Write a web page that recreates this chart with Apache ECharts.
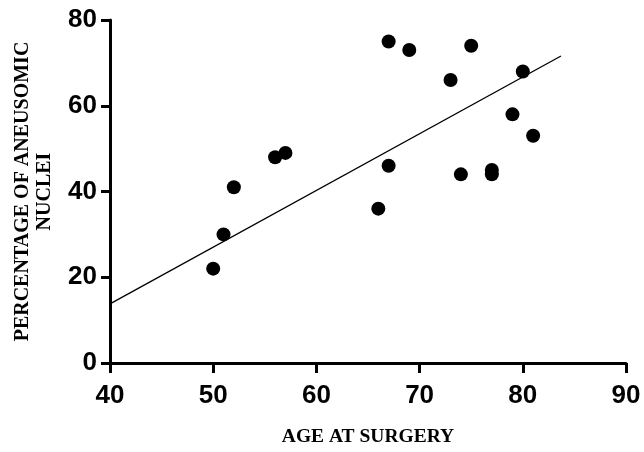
<!DOCTYPE html>
<html>
<head>
<meta charset="utf-8">
<script src="https://cdn.jsdelivr.net/npm/echarts@6/dist/echarts.min.js"></script>
<style>
html,body{margin:0;padding:0;background:#fff;}
#chart{width:644px;height:452px;}
</style>
</head>
<body>
<div id="chart"></div>
<script>
// Age at surgery (x) and percentage of aneusomic nuclei (y)
var ages = [50, 51, 52, 56, 57, 66, 67, 67, 69, 73, 74, 75, 77, 77, 79, 80, 81];
var aneusomic = [22, 30, 41, 48, 49, 36, 46, 75, 73, 66, 44, 74, 45, 44, 58, 68, 53];
// Regression line endpoints
var fitX = [40, 83.7];
var fitY = [13.8, 71.6];
var xTicks = [40, 50, 60, 70, 80, 90];
var yTicks = [0, 20, 40, 60, 80];

var points = ages.map(function (a, i) { return [a, aneusomic[i]]; });
var fitLine = fitX.map(function (x, i) { return [x, fitY[i]]; });

var chart = echarts.init(document.getElementById('chart'));
var axisFont = { fontFamily: 'Liberation Sans, Arial, sans-serif', fontWeight: 'bold', fontSize: 26, color: '#000' };
chart.setOption({
  animation: false,
  backgroundColor: '#fff',
  grid: { left: 110, right: 18, top: 20, bottom: 89, containLabel: false },
  xAxis: {
    type: 'value', min: xTicks[0], max: xTicks[xTicks.length - 1], interval: 10,
    name: 'AGE AT SURGERY', nameLocation: 'middle', nameGap: 64,
    nameTextStyle: { fontFamily: 'Liberation Serif, Times New Roman, serif', fontWeight: 'bold', fontSize: 19.5, color: '#000' },
    axisLine: { show: true, lineStyle: { color: '#000', width: 3 } },
    axisTick: { show: true, length: 10, lineStyle: { color: '#000', width: 3 } },
    axisLabel: Object.assign({ margin: 20 }, axisFont),
    splitLine: { show: false }
  },
  yAxis: {
    type: 'value', min: yTicks[0], max: yTicks[yTicks.length - 1], interval: 20,
    name: 'PERCENTAGE OF ANEUSOMIC\nNUCLEI', nameLocation: 'middle', nameGap: 54, nameRotate: 90,
    nameTextStyle: { fontFamily: 'Liberation Serif, Times New Roman, serif', fontWeight: 'bold', fontSize: 20, lineHeight: 22, color: '#000', align: 'center' },
    axisLine: { show: true, lineStyle: { color: '#000', width: 3 } },
    axisTick: { show: true, length: 9, lineStyle: { color: '#000', width: 3 } },
    axisLabel: Object.assign({ margin: 13 }, axisFont),
    splitLine: { show: false }
  },
  series: [
    {
      type: 'line', data: fitLine, symbol: 'none', silent: true,
      lineStyle: { color: '#000', width: 1.3 }, z: 1
    },
    {
      type: 'scatter', data: points, symbol: 'circle', symbolSize: 14,
      itemStyle: { color: '#000', opacity: 1 }, z: 2
    }
  ]
});
</script>
</body>
</html>
